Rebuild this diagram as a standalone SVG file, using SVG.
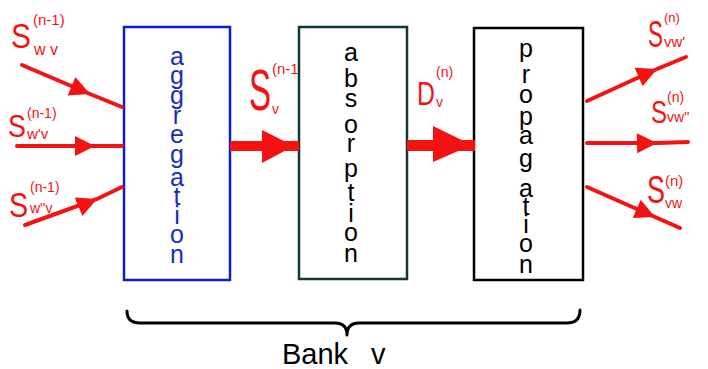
<svg xmlns="http://www.w3.org/2000/svg" width="708" height="369" viewBox="0 0 708 369">
  <style>
    .box { fill: #ffffff; stroke-width: 2.5; }
    .stack { font-family: "Liberation Sans", "DejaVu Sans", sans-serif; font-size: 25px; text-anchor: middle; }
    .red { fill: #f51212; font-family: "Liberation Sans", "DejaVu Sans", sans-serif; }
    .wire { stroke: #f51212; stroke-width: 4; fill: none; stroke-linecap: round; marker-mid: url(#head); }
    .thick { fill: #f51212; }
    .brace { fill: none; stroke: #000; stroke-width: 3; stroke-linecap: round; stroke-linejoin: round; }
  </style>
  <defs>
    <marker id="head" viewBox="0 0 10 10" refX="10" refY="5" markerWidth="6" markerHeight="5" orient="auto" markerUnits="strokeWidth">
      <path d="M0,0 L10,5 L0,10 Z" fill="#f51212"/>
    </marker>
  </defs>
  <rect width="708" height="369" fill="#ffffff"/>

  <!-- stage boxes, each word written letter by letter top to bottom -->
  <g id="aggregation">
    <rect class="box" x="124" y="27" width="106" height="253" stroke="#0c1fc4"/>
    <text class="stack" fill="#1a2cc0">
      <tspan x="177" y="65">a</tspan><tspan x="177" y="84">g</tspan><tspan x="177" y="104">g</tspan><tspan x="177" y="124">r</tspan><tspan x="177" y="143">e</tspan><tspan x="177" y="163">g</tspan><tspan x="177" y="186">a</tspan><tspan x="177" y="205">t</tspan><tspan x="177" y="224">i</tspan><tspan x="177" y="243">o</tspan><tspan x="177" y="263">n</tspan>
    </text>
  </g>
  <g id="absorption">
    <rect class="box" x="299" y="27" width="108" height="252" stroke="#0d3b34"/>
    <text class="stack" fill="#000">
      <tspan x="351" y="61">a</tspan><tspan x="351" y="87">b</tspan><tspan x="351" y="107">s</tspan><tspan x="351" y="133">o</tspan><tspan x="351" y="152">r</tspan><tspan x="351" y="177">p</tspan><tspan x="351" y="201">t</tspan><tspan x="351" y="222">i</tspan><tspan x="351" y="241">o</tspan><tspan x="351" y="262">n</tspan>
    </text>
  </g>
  <g id="propagation">
    <rect class="box" x="474" y="28" width="109" height="252" stroke="#000"/>
    <text class="stack" fill="#000">
      <tspan x="526" y="57">p</tspan><tspan x="526" y="83">r</tspan><tspan x="526" y="103">o</tspan><tspan x="526" y="125">p</tspan><tspan x="526" y="144">a</tspan><tspan x="526" y="167">g</tspan><tspan x="526" y="197">a</tspan><tspan x="526" y="215">t</tspan><tspan x="526" y="233">i</tspan><tspan x="526" y="252">o</tspan><tspan x="526" y="273">n</tspan>
    </text>
  </g>

  <!-- connectors -->
  <g id="connectors">
    <!-- incoming messages -->
    <polyline class="wire" points="22,65 90,94 122,107"/>
    <polyline class="wire" points="17,146 95,146 122,146"/>
    <polyline class="wire" points="25,225 97,199 122,187"/>
    <!-- internal transfers -->
    <rect class="thick" x="230" y="141" width="69" height="10"/>
    <polygon class="thick" points="262,130 294,146 262,163"/>
    <rect class="thick" x="407" y="140" width="68" height="11"/>
    <polygon class="thick" points="433,126 472,145 433,162"/>
    <!-- outgoing messages -->
    <polyline class="wire" points="587,101 657,69 686,57"/>
    <polyline class="wire" points="587,143 657,143 688,142"/>
    <polyline class="wire" points="587,187 655,217 680,228"/>
  </g>

  <!-- message labels: narrow S / D with superscript and subscript -->
  <g id="labels">
    <text class="red" transform="translate(11,48) scale(0.83,1)" font-size="36">S</text>
    <text class="red" x="33" y="25" font-size="15">(n-1)</text>
    <text class="red" x="34" y="55" font-size="16">w v</text>

    <text class="red" transform="translate(8,137) scale(0.84,1)" font-size="32">S</text>
    <text class="red" x="27" y="118" font-size="14">(n-1)</text>
    <text class="red" x="27" y="139" font-size="15">w'v</text>

    <text class="red" transform="translate(9,217) scale(0.8,1)" font-size="36">S</text>
    <text class="red" x="30" y="192" font-size="14">(n-1)</text>
    <text class="red" x="30" y="213" font-size="14">w''v</text>

    <text class="red" transform="translate(249,110) scale(0.57,1)" font-size="58">S</text>
    <text class="red" x="272" y="74" font-size="15">(n-1</text>
    <text class="red" x="272" y="114" font-size="14">v</text>

    <text class="red" transform="translate(417,105) scale(0.73,1)" font-size="34">D</text>
    <text class="red" x="436" y="77" font-size="14">(n)</text>
    <text class="red" x="436" y="107" font-size="14">v</text>

    <text class="red" transform="translate(648,47) scale(0.62,1)" font-size="36">S</text>
    <text class="red" x="664" y="22" font-size="13">(n)</text>
    <text class="red" x="664" y="47" font-size="15">vw'</text>

    <text class="red" transform="translate(651,123) scale(0.75,1)" font-size="32">S</text>
    <text class="red" x="667" y="102" font-size="14">(n)</text>
    <text class="red" x="667" y="122" font-size="14">vw''</text>

    <text class="red" transform="translate(647,203) scale(0.71,1)" font-size="38">S</text>
    <text class="red" x="665" y="186" font-size="15">(n)</text>
    <text class="red" x="665" y="208" font-size="14">vw</text>
  </g>

  <!-- grouping brace -->
  <g id="bank">
    <path class="brace" d="M127,311 Q127,323 140,323 L335,323 Q347,323 347,335 Q347,323 359,323 L567,323 Q580,323 580,310"/>
    <text x="282" y="364" font-family="Liberation Sans, DejaVu Sans, sans-serif" font-size="29" fill="#000">Bank<tspan x="371">v</tspan></text>
  </g>
</svg>
